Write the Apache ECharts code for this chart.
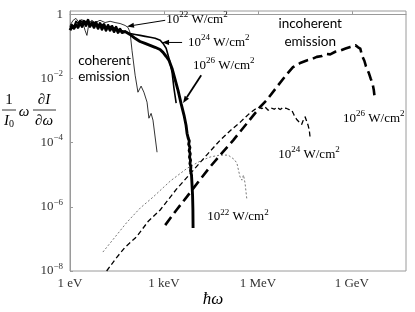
<!DOCTYPE html>
<html><head><meta charset="utf-8">
<script src="https://cdn.jsdelivr.net/npm/echarts@6/dist/echarts.min.js"></script>
<style>html,body{margin:0;padding:0;background:#fff}#c{width:415px;height:312px}</style>
</head><body><div id="c"></div>
<script>
// All values are decades: x = log10(photon energy / eV), y = log10(normalised spectrum)
const xTickValues = [0, 3, 6, 9];
const xTickLabels = ['1 eV', '1 keV', '1 MeV', '1 GeV'];
const yTickValues = [-8, -6, -4, -2, 0];
const yTickExps = ['-8', '-6', '-4', '-2', '0'];

// coherent emission (solid)
const coh22 = [[0,-0.35],[0.10,-0.19],[0.19,-0.13],[0.29,-0.26],[0.38,-0.16],[0.48,-0.50],[0.54,-0.66],[0.61,-0.26],[0.70,-0.19],[0.80,-0.26],[0.96,-0.19],[1.12,-0.26],[1.28,-0.22],[1.44,-0.26],[1.60,-0.29],[1.76,-0.35],[1.85,-0.41],[1.92,-0.57],[1.98,-1.13],[2.08,-1.90],[2.17,-2.43],[2.27,-2.24],[2.36,-2.43],[2.46,-2.74],[2.52,-3.24],[2.59,-3.09],[2.65,-3.30],[2.78,-4.30]];
const coh24 = [[0,-0.41],[0.06,-0.32],[0.13,-0.38],[0.19,-0.22],[0.26,-0.29],[0.32,-0.19],[0.42,-0.29],[0.51,-0.22],[0.64,-0.32],[0.77,-0.26],[0.89,-0.35],[1.02,-0.32],[1.15,-0.41],[1.28,-0.38],[1.44,-0.44],[1.60,-0.50],[1.76,-0.54],[1.92,-0.60],[2.08,-0.63],[2.24,-0.66],[2.40,-0.69],[2.56,-0.72],[2.72,-0.75],[2.88,-0.81],[2.97,-0.91],[3.07,-1.06],[3.16,-1.37],[3.26,-1.81],[3.32,-2.31],[3.39,-2.77]];
const coh26 = [[0,-0.50],[0.064,-0.38],[0.128,-0.44],[0.192,-0.32],[0.256,-0.41],[0.319,-0.26],[0.383,-0.38],[0.447,-0.22],[0.511,-0.35],[0.575,-0.19],[0.639,-0.38],[0.703,-0.26],[0.767,-0.41],[0.831,-0.26],[0.895,-0.44],[0.958,-0.29],[1.022,-0.47],[1.086,-0.32],[1.150,-0.50],[1.214,-0.35],[1.278,-0.50],[1.342,-0.38],[1.406,-0.54],[1.470,-0.41],[1.534,-0.57],[1.597,-0.47],[1.661,-0.57],[1.757,-0.54],[1.917,-0.63],[2.077,-0.75],[2.236,-0.85],[2.396,-0.91],[2.556,-0.97],[2.716,-1.03],[2.875,-1.10],[2.971,-1.19],[3.067,-1.31],[3.163,-1.44],[3.259,-1.69],[3.355,-2.03],[3.450,-2.37],[3.546,-2.78],[3.642,-3.15],[3.706,-3.46],[3.738,-3.71],[3.775,-3.86],[3.810,-3.95],[3.790,-4.05],[3.830,-4.15],[3.805,-4.25],[3.840,-4.35],[3.815,-4.45],[3.850,-4.55],[3.830,-4.65],[3.860,-4.75],[3.850,-4.88],[3.880,-5.01],[3.898,-5.33],[3.914,-5.64],[3.925,-6.10],[3.930,-6.66]];

// incoherent emission (dashed)
const inc22 = [[1.05,-7.41],[1.44,-6.94],[1.82,-6.48],[2.24,-6.04],[2.65,-5.70],[3.20,-5.20],[3.74,-4.80],[4.15,-4.58],[4.47,-4.45],[4.79,-4.39],[5.05,-4.39],[5.24,-4.52],[5.33,-4.64],[5.43,-5.07],[5.49,-5.17],[5.54,-5.01],[5.59,-5.26],[5.65,-5.79]];
const inc24 = [[1.17,-8.00],[1.45,-7.63],[1.75,-7.27],[2.13,-6.93],[2.50,-6.45],[2.88,-6.10],[3.40,-5.45],[3.94,-4.86],[4.40,-4.35],[4.79,-3.93],[5.15,-3.60],[5.43,-3.37],[5.70,-3.12],[5.91,-2.96],[6.05,-2.90],[6.13,-2.94],[6.22,-2.88],[6.33,-2.99],[6.42,-2.92],[6.52,-2.96],[6.61,-2.90],[6.71,-2.97],[6.80,-2.91],[6.90,-2.93],[7.00,-2.97],[7.08,-2.99],[7.16,-3.15],[7.24,-3.28],[7.32,-3.36],[7.40,-3.43],[7.45,-3.30],[7.51,-3.20],[7.57,-3.15],[7.60,-3.45],[7.64,-3.60],[7.67,-3.86]];
const inc26 = [[3.04,-6.57],[3.40,-6.10],[3.73,-5.69],[4.10,-5.22],[4.47,-4.76],[4.85,-4.33],[5.21,-3.93],[5.65,-3.40],[6.07,-2.89],[6.28,-2.68],[6.65,-2.21],[6.90,-1.90],[7.12,-1.65],[7.35,-1.52],[7.56,-1.44],[7.72,-1.40],[7.88,-1.33],[8.05,-1.30],[8.18,-1.24],[8.31,-1.25],[8.47,-1.17],[8.63,-1.13],[8.80,-1.07],[8.95,-1.02],[9.05,-0.99],[9.12,-0.97],[9.20,-1.03],[9.27,-1.07],[9.33,-1.30],[9.40,-1.45],[9.45,-1.62],[9.50,-1.60],[9.55,-1.85],[9.60,-2.00],[9.66,-2.15],[9.70,-2.35],[9.74,-2.68]];

const SERIF = "'Liberation Serif','DejaVu Serif',serif";
const SANS = "Lato,'Open Sans',sans-serif";
const AX = '#9a9a9a';

function line(name, data, w, dash, color, z) {
  return { name, type: 'line', data, showSymbol: false, symbol: 'none', animation: false, z: z,
    lineStyle: { width: w, type: dash, color: color, join: 'round', cap: 'butt' } };
}

const option = {
  animation: false,
  backgroundColor: '#fff',
  grid: { left: 70, right: 9, top: 11, bottom: 41, show: true, borderColor: AX, borderWidth: 1 },
  xAxis: {
    type: 'value', min: 0, max: 10.73, interval: 3,
    axisLine: { show: true, lineStyle: { color: AX } },
    axisTick: { show: true, inside: true, length: 3, lineStyle: { color: AX } },
    splitLine: { show: false },
    axisLabel: { margin: 6, color: '#333', fontFamily: SERIF, fontSize: 13, showMaxLabel: false,
      formatter: v => { const i = xTickValues.indexOf(Math.round(v * 1000) / 1000); return i >= 0 ? xTickLabels[i] : ''; } }
  },
  yAxis: {
    type: 'value', min: -8, max: 0.1, interval: 2,
    axisLine: { show: true, lineStyle: { color: AX } },
    axisTick: { show: true, inside: true, length: 3, lineStyle: { color: AX } },
    splitLine: { show: false },
    axisLabel: { margin: 7, color: '#333', showMaxLabel: false,
      formatter: v => { const i = yTickValues.indexOf(Math.round(v * 1000) / 1000); if (i < 0) return '';
        if (yTickValues[i] === 0) return '{b|1}';
        return '{b|10}{s|' + yTickExps[i].replace('-', '\u2212') + '}'; },
      rich: { b: { fontFamily: SERIF, fontSize: 13, color: '#333' },
              s: { fontFamily: SERIF, fontSize: 9, color: '#333', padding: [0, 0, 9, 0] } } }
  },
  series: [
    line('inc22', inc22, 0.8, [2, 2], '#555', 2),
    line('inc24', inc24, 1.3, [5, 3], '#000', 3),
    line('inc26', inc26, 2.6, [10, 5], '#000', 4),
    line('coh22', coh22, 0.8, 'solid', '#000', 5),
    line('coh24', coh24, 1.6, 'solid', '#000', 6),
    line('coh26', coh26, 2.9, 'solid', '#000', 7)
  ]
};

const chart = echarts.init(document.getElementById('c'), null, { renderer: 'canvas' });
chart.setOption(option);

const P = p => chart.convertToPixel({ gridIndex: 0 }, p);
const supRich = {
  a: { fill: '#000', fontFamily: SERIF, fontSize: 13 },
  s: { fill: '#000', fontFamily: SERIF, fontSize: 9, padding: [0, 0, 9, 0] }
};
function intensityLabel(exp, at) {
  const p = P(at);
  return { type: 'text', z: 20, style: { x: p[0], y: p[1], text: '{a|10}{s|' + exp + '}{a| W/cm}{s|2}', rich: supRich, align: 'left', verticalAlign: 'middle' } };
}
function sansLabel(txt, at, align) {
  const p = P(at);
  return { type: 'text', z: 20, style: { x: p[0], y: p[1], text: txt, fill: '#000', font: '13.5px ' + SANS, align: align, verticalAlign: 'middle' } };
}
function arrow(tail, tip, lw) {
  const a = P(tail), b = P(tip);
  const dx = b[0] - a[0], dy = b[1] - a[1], L = Math.hypot(dx, dy), ux = dx / L, uy = dy / L;
  const hl = 7, hw = 2.6;
  const bx = b[0] - ux * hl, by = b[1] - uy * hl;
  return [
    { type: 'line', z: 20, shape: { x1: a[0], y1: a[1], x2: bx, y2: by }, style: { stroke: '#000', lineWidth: lw } },
    { type: 'polygon', z: 20, shape: { points: [[b[0], b[1]], [bx - uy * hw, by + ux * hw], [bx + uy * hw, by - ux * hw]] }, style: { fill: '#000' } }
  ];
}

const elems = [];
elems.push(sansLabel('coherent', [0.26, -1.46], 'left'));
elems.push(sansLabel('emission', [0.26, -1.93], 'left'));
elems.push(sansLabel('incoherent', [7.67, -0.29], 'center'));
elems.push(sansLabel('emission', [7.67, -0.85], 'center'));
elems.push(intensityLabel('22', [3.07, -0.16]));
elems.push(intensityLabel('24', [3.77, -0.88]));
elems.push(intensityLabel('26', [3.93, -1.59]));
elems.push(intensityLabel('26', [8.72, -3.24]));
elems.push(intensityLabel('24', [6.65, -4.36]));
elems.push(intensityLabel('22', [4.38, -6.31]));
elems.push(...arrow([3.04, -0.19], [1.82, -0.38], 1));
elems.push(...arrow([3.58, -0.88], [2.94, -0.88], 1));
elems.push(...arrow([4.19, -1.90], [3.61, -2.77], 1.8));

// axis titles
const itFont = 'italic 15px ' + SERIF;
const upFont = '15px ' + SERIF;
elems.push({ type: 'text', z: 20, style: { x: 9, y: 100, text: '1', fill: '#000', font: upFont, align: 'center', verticalAlign: 'middle' } });
elems.push({ type: 'line', z: 20, shape: { x1: 2, y1: 110, x2: 16, y2: 110 }, style: { stroke: '#000', lineWidth: 0.8 } });
elems.push({ type: 'text', z: 20, style: { x: 9, y: 121, text: '{i|I}{o|0}', align: 'center', verticalAlign: 'middle',
  rich: { i: { font: itFont, fill: '#000' }, o: { font: '10px ' + SERIF, fill: '#000', padding: [7, 0, 0, 0] } } } });
elems.push({ type: 'text', z: 20, style: { x: 24, y: 112, text: '\u03c9', fill: '#000', font: itFont, align: 'center', verticalAlign: 'middle' } });
elems.push({ type: 'text', z: 20, style: { x: 44, y: 100, text: '\u2202I', fill: '#000', font: itFont, align: 'center', verticalAlign: 'middle' } });
elems.push({ type: 'line', z: 20, shape: { x1: 33, y1: 110, x2: 56, y2: 110 }, style: { stroke: '#000', lineWidth: 0.8 } });
elems.push({ type: 'text', z: 20, style: { x: 44, y: 121, text: '\u2202\u03c9', fill: '#000', font: itFont, align: 'center', verticalAlign: 'middle' } });
elems.push({ type: 'text', z: 20, style: { x: 213, y: 300, text: '\u0127\u03c9', fill: '#000', font: 'italic 17px ' + SERIF, align: 'center', verticalAlign: 'middle' } });

chart.setOption({ graphic: { elements: elems } });
</script>
</body></html>
